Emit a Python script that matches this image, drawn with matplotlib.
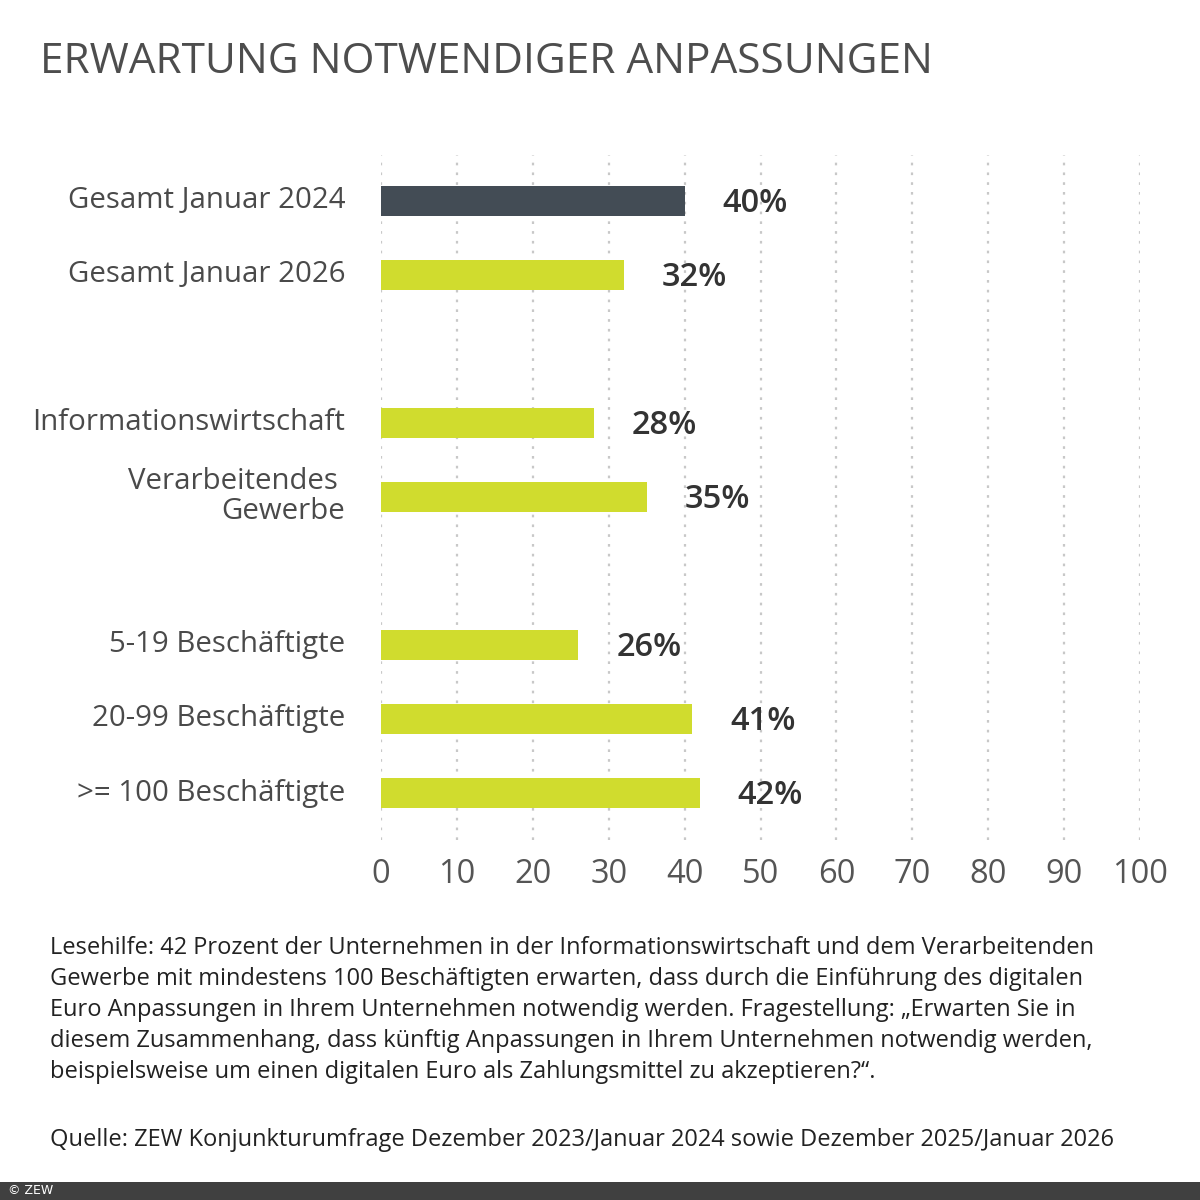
import matplotlib

matplotlib.use("Agg")
import matplotlib.pyplot as plt

FONT = "Open Sans"

categories = [
    "Gesamt Januar 2024",
    "Gesamt Januar 2026",
    "Informationswirtschaft",
    "Verarbeitendes \nGewerbe",
    "5-19 Beschäftigte",
    "20-99 Beschäftigte",
    ">= 100 Beschäftigte",
]
positions = [0, 1, 3, 4, 6, 7, 8]
values = [40, 32, 28, 35, 26, 41, 42]
value_labels = ["40%", "32%", "28%", "35%", "26%", "41%", "42%"]
bar_colors = ["#434c55", "#d0dc2e", "#d0dc2e", "#d0dc2e", "#d0dc2e", "#d0dc2e", "#d0dc2e"]
x_ticks = [0, 10, 20, 30, 40, 50, 60, 70, 80, 90, 100]

title = "ERWARTUNG NOTWENDIGER ANPASSUNGEN"
note_lines = [
    "Lesehilfe: 42 Prozent der Unternehmen in der Informationswirtschaft und dem Verarbeitenden",
    "Gewerbe mit mindestens 100 Beschäftigten erwarten, dass durch die Einführung des digitalen",
    "Euro Anpassungen in Ihrem Unternehmen notwendig werden. Fragestellung: \u201eErwarten Sie in",
    "diesem Zusammenhang, dass künftig Anpassungen in Ihrem Unternehmen notwendig werden,",
    "beispielsweise um einen digitalen Euro als Zahlungsmittel zu akzeptieren?\u201c.",
]
source = "Quelle: ZEW Konjunkturumfrage Dezember 2023/Januar 2024 sowie Dezember 2025/Januar 2026"

plt.rcParams["font.family"] = [FONT, "DejaVu Sans"]

fig = plt.figure(figsize=(12, 12), dpi=100)
ax = fig.add_axes([381 / 1200, 1 - 840 / 1200, (1140 - 381) / 1200, (840 - 155) / 1200])

ax.barh(positions, values, height=0.405, color=bar_colors, edgecolor="none", zorder=3)
ax.set_xlim(0, 100)
ax.set_ylim(8.635, -0.62)

for x in x_ticks:
    ax.axvline(x, color="#c8c8c8", linewidth=1.6, linestyle=(0, (1.2, 3.2)), zorder=1)

ax.set_xticks(x_ticks)
ax.set_xticklabels([str(t) for t in x_ticks], fontsize=23.5, color="#555555")
ax.tick_params(axis="x", length=0, pad=13)
ax.set_yticks([])
for spine in ax.spines.values():
    spine.set_visible(False)

for pos, cat in zip(positions, categories):
    ax.text(-4.7, pos, cat, ha="right", va="center", multialignment="right",
            fontsize=21.2, color="#4a4a4a", linespacing=1.05)

for pos, val, lab in zip(positions, values, value_labels):
    ax.text(val + 5, pos + 0.04, lab, ha="left", va="center",
            fontsize=23.5, fontweight="semibold", color="#333333")

fig.text(40 / 1200, 1 - 62 / 1200, title, ha="left", va="center",
         fontsize=30.5, color="#4d4d4d")

for i, line in enumerate(note_lines):
    fig.text(50 / 1200, 1 - (948 + 31 * i) / 1200, line, ha="left", va="center",
             fontsize=17, color="#222222")
fig.text(50 / 1200, 1 - 1140 / 1200, source, ha="left", va="center",
         fontsize=17, color="#222222")

fig.patches.append(plt.Rectangle((0, 0), 1, 18 / 1200, transform=fig.transFigure,
                                 facecolor="#404040", edgecolor="none"))
fig.text(8 / 1200, 9 / 1200, "© ZEW", ha="left", va="center", fontsize=9,
         color="white", family="DejaVu Sans")

fig.savefig("out.png", dpi=100, facecolor="white")
